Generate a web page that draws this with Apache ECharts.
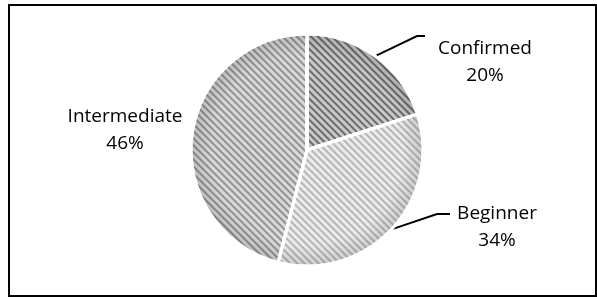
<!DOCTYPE html>
<html>
<head>
<meta charset="utf-8">
<script src="https://cdn.jsdelivr.net/npm/echarts@6/dist/echarts.min.js"></script>
<style>
    html, body { margin: 0; padding: 0; background: #fff; }
    #pieId { width: 597px; height: 300px; }
</style>
</head>
<body>
<div id="pieId"></div>
<script>
    // data
    const categories = ['Confirmed', 'Beginner', 'Intermediate'];
    const shares = [20, 34, 46];

    const baseColors = ['#c9c9c9', '#ebebeb', '#d9d9d9'];
    const stripeColors = ['#6c6c6c', '#b6b6b6', '#929292'];
    // where Excel left each data label (centre of the text block)
    const labelSpots = [[485, 62], [497, 227], [125, 130]];
    // leader line elbow / end, relative to the label centre
    const leaderOffsets = [
        [[-68, -26], [-60, -26]],
        [[-60, -13], [-47, -13]],
        null
    ];

    const pieCenter = [307, 150];
    const pieRadius = 116;

    const myChart = echarts.init(document.getElementById('pieId'));

    // soft darker rim, like the Excel inner shading
    const rimShade = new echarts.graphic.RadialGradient(pieCenter[0], pieCenter[1], pieRadius, [
        { offset: 0, color: 'rgba(0,0,0,0)' },
        { offset: 0.82, color: 'rgba(0,0,0,0)' },
        { offset: 1, color: 'rgba(0,0,0,0.13)' }
    ], true);

    const option = {
        animation: false,
        graphic: [{
            type: 'rect',
            shape: { x: 9, y: 5, width: 587, height: 291 },
            style: { fill: 'none', stroke: '#000', lineWidth: 2 },
            silent: true
        }],
        series: [{
            type: 'pie',
            center: pieCenter,
            radius: pieRadius,
            startAngle: 90,
            clockwise: true,
            avoidLabelOverlap: false,
            itemStyle: {
                borderColor: '#fff',
                borderWidth: 3
            },
            label: {
                show: true,
                position: 'outside',
                formatter: function (p) {
                    return '{a|' + p.name + '}\n{a|' + Math.round(p.percent) + '%}';
                },
                rich: {
                    a: {
                        fontFamily: 'Open Sans',
                        fontSize: 19,
                        color: '#000',
                        lineHeight: 27,
                        width: 124,
                        align: 'center'
                    }
                }
            },
            labelLine: {
                show: true,
                length: 20,
                length2: 8,
                lineStyle: { color: '#000', width: 2 }
            },
            labelLayout: function (params) {
                const i = params.dataIndex;
                const spot = labelSpots[i];
                const layout = {
                    x: spot[0],
                    y: spot[1],
                    align: 'center',
                    verticalAlign: 'middle'
                };
                const off = leaderOffsets[i];
                if (off && params.labelLinePoints) {
                    layout.labelLinePoints = [
                        params.labelLinePoints[0],
                        [spot[0] + off[0][0], spot[1] + off[0][1]],
                        [spot[0] + off[1][0], spot[1] + off[1][1]]
                    ];
                }
                return layout;
            },
            data: categories.map(function (name, i) {
                return {
                    name: name,
                    value: shares[i],
                    labelLine: { show: i !== 2 },
                    itemStyle: {
                        color: baseColors[i],
                        decal: {
                            symbol: 'rect',
                            symbolSize: 1,
                            color: stripeColors[i],
                            dashArrayX: [1, 0],
                            dashArrayY: [2, 2.5],
                            rotation: Math.PI / 4
                        }
                    }
                };
            })
        }, {
            // shading layer on top of the hatched slices
            type: 'pie',
            silent: true,
            z: 3,
            center: pieCenter,
            radius: pieRadius,
            startAngle: 90,
            clockwise: true,
            label: { show: false },
            labelLine: { show: false },
            itemStyle: {
                color: rimShade,
                borderColor: '#fff',
                borderWidth: 3
            },
            data: categories.map(function (name, i) {
                return { name: name, value: shares[i] };
            })
        }]
    };

    myChart.setOption(option);
    window.addEventListener('resize', myChart.resize);
</script>
</body>
</html>
